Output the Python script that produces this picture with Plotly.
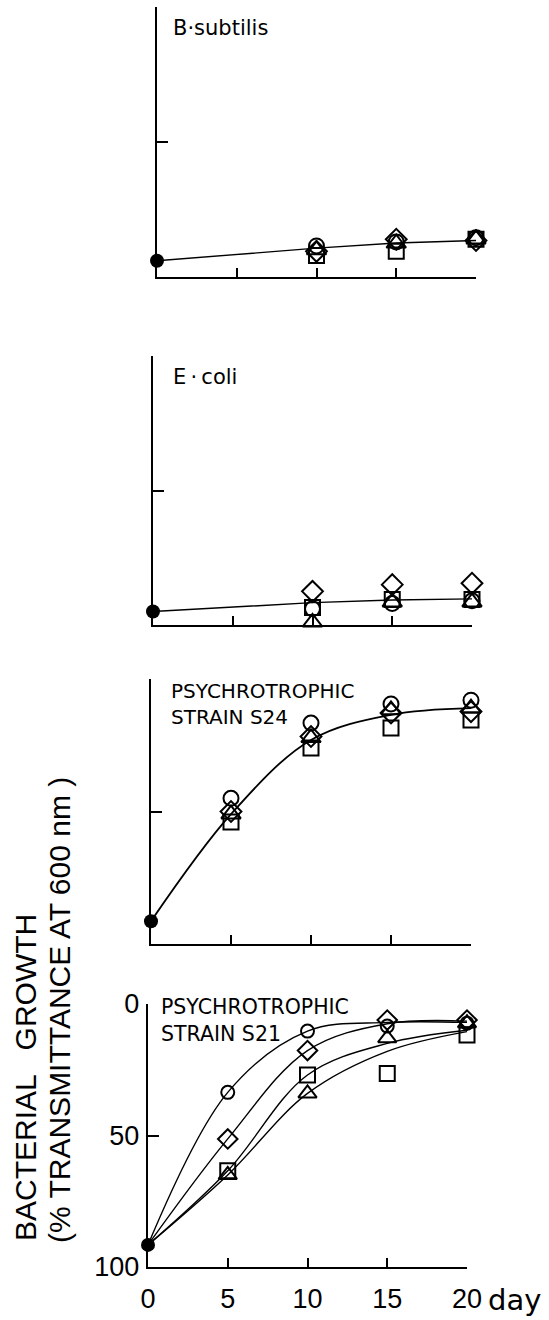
import plotly.graph_objects as go

W, H = 549, 1320

# ---------------- data ----------------
days = [0, 5, 10, 15, 20]
days_late = [5, 10, 15, 20]
days_top = [10, 15, 20]
start_day = [0]

# Panel 1: B. subtilis (% transmittance, axis reversed)
bs_start = [94]
bs_line_days = [0, 10, 15, 20]
bs_line = [94, 89.3, 87.4, 86.5]
bs_circle = [88.5, 87.0, 85.5]
bs_diamond = [90.5, 86.0, 86.5]
bs_square = [92.0, 90.5, 86.0]
bs_triangle = [90.0, 87.5, 86.0]

# Panel 2: E. coli
ec_start = [95]
ec_line_days = [0, 10, 15, 20]
ec_line = [95, 91.7, 90.7, 90.3]
ec_circle = [94.0, 92.0, 91.0]
ec_diamond = [87.5, 85.0, 84.5]
ec_square = [93.5, 90.5, 90.5]
ec_triangle = [99.0, 91.5, 91.5]

# Panel 3: psychrotrophic strain S24
s24_start = [91.4]
s24_curve = [91.4, 51, 23, 13.5, 11]
s24_circle = [45, 16.6, 9.4, 8]
s24_diamond = [50, 21.7, 12.8, 12.3]
s24_square = [54, 26, 18.5, 15.5]
s24_triangle = [51, 22.2, 11.7, 11]

# Panel 4: psychrotrophic strain S21
s21_start = [91.6]
s21_circle = [33.6, 10.3, 8.4, 7.3]
s21_diamond = [51.3, 17.7, 6.1, 6.1]
s21_square = [63.4, 27.0, 26.4, 11.8]
s21_triangle = [65.0, 34.0, 13.0, 7.3]
s21_circle_curve = [91.6, 33.6, 10.3, 7.0, 7.0]
s21_diamond_curve = [91.6, 51.3, 17.7, 7.5, 6.5]
s21_square_curve = [91.6, 63.4, 27.0, 15.0, 10.0]
s21_triangle_curve = [91.6, 65.0, 34.0, 18.0, 10.5]

y_ticks = [0, 50, 100]
y_ticktext = ["0", "50", "100"]
x_ticks = [0, 5, 10, 15, 20]
x_ticktext = ["0", "5", "10", "15", "20"]

# ---------------- layout helpers ----------------
def px(x):
    return x / W

def py(y):
    return 1 - y / H

# pixel frames of each panel: (x at day0, x at day20, y at 0%, y at 100%)
frames = [
    (157, 476, 7, 277),
    (153, 472, 356, 625),
    (151, 471, 679, 944),
    (148, 467, 1004, 1267),
]

fig = go.Figure()

TICKFONT = dict(family="Liberation Sans, Arial, sans-serif", size=27, color="black")

for i, (x0, x1, yt, yb) in enumerate(frames, start=1):
    last = i == 4
    xa = dict(
        domain=[px(x0), px(x1)], range=[0, 20], anchor="y%d" % i if i > 1 else "y",
        showline=True, linewidth=2.2, linecolor="black", showgrid=False, zeroline=False,
        ticks="inside", ticklen=9, tickwidth=2, tickcolor="black",
        tickvals=x_ticks, ticktext=x_ticktext, showticklabels=last,
        tickfont=TICKFONT, ticklabelstandoff=6, automargin=False, fixedrange=True,
    )
    ya = dict(
        domain=[py(yb), py(yt)], range=[100, 0], anchor="x%d" % i if i > 1 else "x",
        showline=True, linewidth=2.4, linecolor="black", showgrid=False, zeroline=False,
        ticks="inside", ticklen=11, tickwidth=2, tickcolor="black",
        tickvals=y_ticks if last else [0, 50], ticktext=y_ticktext if last else ["", ""],
        showticklabels=last, tickfont=TICKFONT, ticklabelstandoff=1,
        automargin=False, fixedrange=True,
    )
    fig.layout["xaxis%s" % ("" if i == 1 else i)] = xa
    fig.layout["yaxis%s" % ("" if i == 1 else i)] = ya

MLW = 2.0


def add_line(xs, ys, panel, shape="linear", width=1.4):
    fig.add_trace(go.Scatter(
        x=xs, y=ys, mode="lines", line=dict(color="black", width=width, shape=shape, smoothing=1.0),
        xaxis="x" if panel == 1 else "x%d" % panel, yaxis="y" if panel == 1 else "y%d" % panel,
        cliponaxis=False, hoverinfo="skip", showlegend=False))


def add_markers(xs, ys, panel, symbol, size):
    fig.add_trace(go.Scatter(
        x=xs, y=ys, mode="markers",
        marker=dict(symbol=symbol, size=size, color="black", line=dict(color="black", width=MLW)),
        xaxis="x" if panel == 1 else "x%d" % panel, yaxis="y" if panel == 1 else "y%d" % panel,
        cliponaxis=False, showlegend=False))


def add_start(y, panel):
    fig.add_trace(go.Scatter(
        x=start_day, y=y, mode="markers",
        marker=dict(symbol="circle", size=14, color="black", line=dict(width=0)),
        xaxis="x" if panel == 1 else "x%d" % panel, yaxis="y" if panel == 1 else "y%d" % panel,
        cliponaxis=False, showlegend=False))

SZ_TOP = dict(c=15, d=16, s=15, t=17)
SZ_BOT = dict(c=13, d=15, s=15, t=16)

# Panel 1
add_line(bs_line_days, bs_line, 1)
add_markers(days_top, bs_square, 1, "square-open", SZ_TOP["s"])
add_markers(days_top, bs_triangle, 1, "triangle-up-open", SZ_TOP["t"])
add_markers(days_top, bs_diamond, 1, "diamond-open", SZ_TOP["d"])
add_markers(days_top, bs_circle, 1, "circle-open", SZ_TOP["c"])
add_start(bs_start, 1)

# Panel 2
add_line(ec_line_days, ec_line, 2)
add_markers(days_top, ec_square, 2, "square-open", SZ_TOP["s"])
add_markers(days_top, ec_triangle, 2, "triangle-up-open", SZ_TOP["t"])
add_markers(days_top, ec_diamond, 2, "diamond-open", SZ_TOP["d"])
add_markers(days_top, ec_circle, 2, "circle-open", SZ_TOP["c"])
add_start(ec_start, 2)

# Panel 3
add_line(days, s24_curve, 3, shape="spline", width=1.8)
add_markers(days_late, s24_square, 3, "square-open", SZ_TOP["s"])
add_markers(days_late, s24_triangle, 3, "triangle-up-open", SZ_TOP["t"])
add_markers(days_late, s24_diamond, 3, "diamond-open", SZ_TOP["d"])
add_markers(days_late, s24_circle, 3, "circle-open", SZ_TOP["c"])
add_start(s24_start, 3)

# Panel 4
add_line(days, s21_circle_curve, 4, shape="spline")
add_line(days, s21_diamond_curve, 4, shape="spline")
add_line(days, s21_square_curve, 4, shape="spline")
add_line(days, s21_triangle_curve, 4, shape="spline")
add_markers(days_late, s21_square, 4, "square-open", SZ_BOT["s"])
add_markers(days_late, s21_triangle, 4, "triangle-up-open", SZ_BOT["t"])
add_markers(days_late, s21_diamond, 4, "diamond-open", SZ_BOT["d"])
add_markers(days_late, s21_circle, 4, "circle-open", SZ_BOT["c"])
add_start(s21_start, 4)

LABFONT = dict(family="DejaVu Sans, sans-serif", size=20, color="black")
ann = []
ann.append(dict(text="B·subtilis", x=px(171), y=py(28), xanchor="left", yanchor="middle",
                font=dict(family="DejaVu Sans, sans-serif", size=21, color="black")))
ann.append(dict(text="E\u2009·\u2009coli", x=px(171), y=py(377), xanchor="left", yanchor="middle",
                font=dict(family="DejaVu Sans, sans-serif", size=21, color="black")))
ann.append(dict(text="PSYCHROTROPHIC<br>STRAIN S24", x=px(169), y=py(704), xanchor="left",
                yanchor="middle", align="left", font=LABFONT))
ann.append(dict(text="PSYCHROTROPHIC<br>STRAIN S21", x=px(159), y=py(1020), xanchor="left",
                yanchor="middle", align="left", font=dict(family="DejaVu Sans, sans-serif", size=20.5, color="black")))
ann.append(dict(text="day", x=px(486), y=py(1300), xanchor="left", yanchor="middle",
                font=dict(family="DejaVu Sans, sans-serif", size=29, color="black")))
TITLEFONT = dict(family="Liberation Sans, Arial, sans-serif", size=30, color="black")
ann.append(dict(text="BACTERIAL   GROWTH", x=px(25), y=py(1078), textangle=-90,
                xanchor="center", yanchor="middle", font=TITLEFONT))
ann.append(dict(text="(% TRANSMITTANCE AT 600 nm )", x=px(59), y=py(1010), textangle=-90,
                xanchor="center", yanchor="middle", font=TITLEFONT))
for a in ann:
    a.update(xref="paper", yref="paper", showarrow=False)

fig.update_layout(
    width=W, height=H, margin=dict(l=0, r=0, t=0, b=0),
    paper_bgcolor="white", plot_bgcolor="white", showlegend=False,
    annotations=ann,
)

fig.write_html("out.html", config={"displayModeBar": False})
